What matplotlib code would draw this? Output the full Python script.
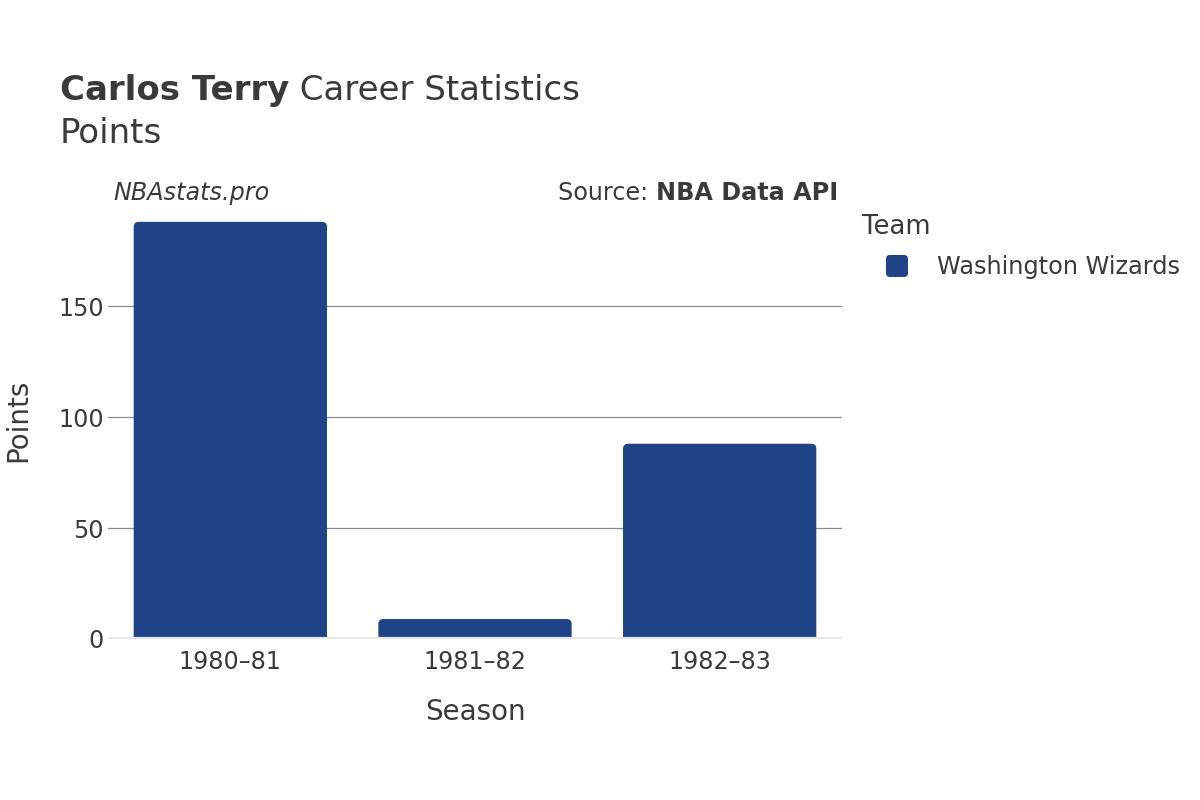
import matplotlib.pyplot as plt
from matplotlib.patches import FancyBboxPatch

# data
seasons = ['1980–81', '1981–82', '1982–83']
points = [188, 9, 88]
team = 'Washington Wizards'
yticks = [0, 50, 100, 150]

bar_color = '#1e4387'
text_color = '#3a3a3a'

plt.rcParams['font.family'] = ['DejaVu Sans']

fig = plt.figure(figsize=(12, 8), dpi=100)
W, H = 1200, 800
ax = fig.add_axes([108 / W, 1 - 639 / H, 734 / W, 438 / H])

ax.set_xlim(-0.5, len(seasons) - 0.5)
ax.set_ylim(0, max(points) * 1.05)

# bars with rounded tops (bottoms pushed below the axis and clipped away)
bar_w = 0.79
px_per_x = 734 / len(seasons)
px_per_y = 438 / (max(points) * 1.05)
r = 5.0
for i, v in enumerate(points):
    box = FancyBboxPatch((i - bar_w / 2, -r / px_per_y * 2), bar_w, v + r / px_per_y * 2,
                         boxstyle='round,pad=0,rounding_size=%f' % (r / px_per_x),
                         mutation_aspect=px_per_x / px_per_y,
                         facecolor=bar_color, edgecolor='none', zorder=3)
    box.set_clip_on(True)
    ax.add_patch(box)

# grid + zero line
for t in yticks[1:]:
    ax.axhline(t, color='#8a8a8a', lw=0.9, zorder=1)
ax.axhline(0, color='#e8e8e8', lw=3, zorder=4)

for s in ax.spines.values():
    s.set_visible(False)
ax.set_yticks(yticks)
ax.set_xticks(range(len(seasons)))
ax.set_xticklabels(seasons)
ax.tick_params(axis='both', length=0, labelsize=17.2, colors=text_color)
ax.tick_params(axis='y', pad=3)
ax.tick_params(axis='x', pad=8)

ax.set_xlabel('Season', fontsize=20, color=text_color, labelpad=17)
ax.set_ylabel('Points', fontsize=20, color=text_color, labelpad=19)

# title
bold = fig.text(60 / W, 700 / H, 'Carlos Terry', fontsize=24.5, fontweight='bold',
                color=text_color, va='baseline')
ax.annotate(' Career Statistics', xy=(1, 700), xycoords=(bold, 'figure pixels'),
            fontsize=24.5, color=text_color, va='baseline', annotation_clip=False)
fig.text(60 / W, 657 / H, 'Points', fontsize=24.5, color=text_color, va='baseline')

fig.text(113 / W, 600 / H, 'NBAstats.pro', fontsize=17.2, style='italic',
         color=text_color, va='baseline')
src_b = fig.text(838 / W, 600 / H, 'NBA Data API', fontsize=17.2, fontweight='bold',
                 color=text_color, va='baseline', ha='right')
ax.annotate('Source: ', xy=(0, 600), xycoords=(src_b, 'figure pixels'),
            fontsize=17.2, color=text_color, va='baseline', ha='right',
            annotation_clip=False)

# legend
fig.text(862 / W, 1 - 227 / H, 'Team', fontsize=18.6, color=text_color, va='center')
sw = FancyBboxPatch((886 / W, 1 - 277 / H), 22 / W, 22 / H,
                    boxstyle='round,pad=0,rounding_size=%f' % (4 / W),
                    mutation_aspect=W / H, transform=fig.transFigure,
                    facecolor=bar_color, edgecolor='none')
fig.patches.append(sw)
fig.text(937 / W, 1 - 267 / H, team, fontsize=17.3, color=text_color, va='center')

fig.savefig('out.png', dpi=100)
